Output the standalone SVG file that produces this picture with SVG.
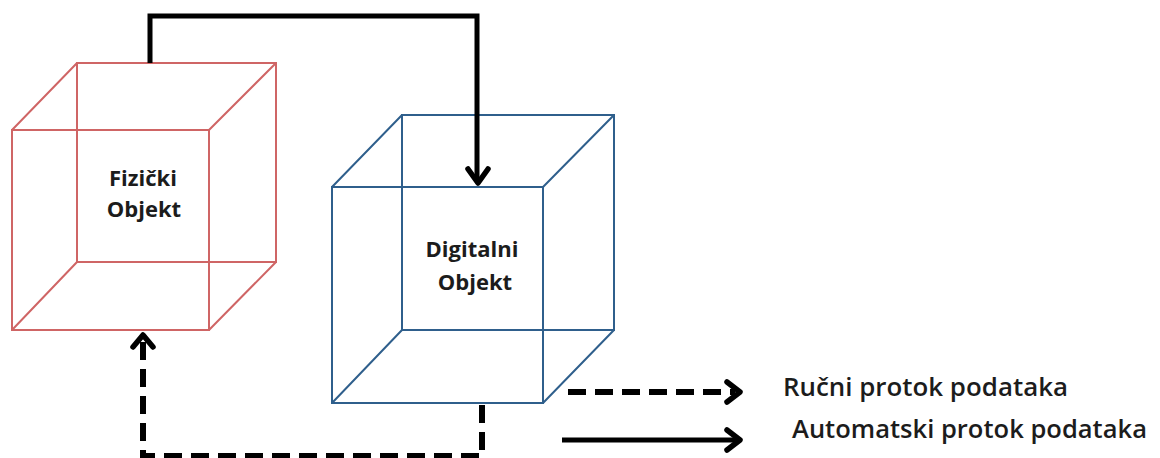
<svg xmlns="http://www.w3.org/2000/svg" width="1160" height="458" viewBox="0 0 1160 458">
<style>
.cube-r{fill:none;stroke:#cf6565;stroke-width:2}
.cube-b{fill:none;stroke:#2f5f8c;stroke-width:2}
.lbl{font-family:"Open Sans","Liberation Sans",sans-serif;font-weight:700;font-size:22px;fill:#1c1c1c;text-anchor:middle}
.leg{font-family:"Open Sans","Liberation Sans",sans-serif;font-weight:600;font-size:25px;fill:#1c1c1c}
.solid{fill:none;stroke:#000;stroke-width:5}
.dash{fill:none;stroke:#000;stroke-width:6;stroke-dasharray:18 9}
.head{fill:none;stroke:#000;stroke-width:5.5;stroke-linecap:round;stroke-linejoin:round}
</style>
<rect width="1160" height="458" fill="#fff"/>
<g id="fizicki-objekt">
<rect class="cube-r" x="77" y="63" width="199" height="199"/>
<rect class="cube-r" x="12" y="130" width="197" height="200"/>
<path class="cube-r" d="M12 130L77 63M209 130L276 63M12 330L77 262M209 330L276 262"/>
<text class="lbl" x="143" y="186">Fizički</text>
<text class="lbl" x="144" y="217">Objekt</text>
</g>
<g id="digitalni-objekt">
<rect class="cube-b" x="402" y="115" width="212" height="215"/>
<rect class="cube-b" x="332" y="187" width="211" height="216"/>
<path class="cube-b" d="M332 187L402 115M543 187L614 115M332 403L402 330M543 403L614 330"/>
<text class="lbl" x="472" y="257">Digitalni</text>
<text class="lbl" x="475" y="290">Objekt</text>
</g>
<g id="connectors">
<path class="solid" d="M150 63V16H477V182"/>
<polyline class="head" points="468,169 478,183 488,169"/>
<path class="dash" d="M482 405V456H143V340"/>
<polyline class="head" points="133,347 143,335 153,347"/>
</g>
<g id="legend">
<line class="dash" x1="568" y1="392" x2="735" y2="392" stroke-dasharray="15 9"/>
<polyline class="head" points="727,382 740,392 727,402"/>
<line class="solid" x1="562" y1="440" x2="737" y2="440" stroke-width="6"/>
<polyline class="head" points="727,430 740,440 727,450"/>
<text class="leg" x="783" y="396" textLength="285" lengthAdjust="spacingAndGlyphs">Ručni protok podataka</text>
<text class="leg" x="792" y="438" textLength="355" lengthAdjust="spacingAndGlyphs">Automatski protok podataka</text>
</g>
</svg>
